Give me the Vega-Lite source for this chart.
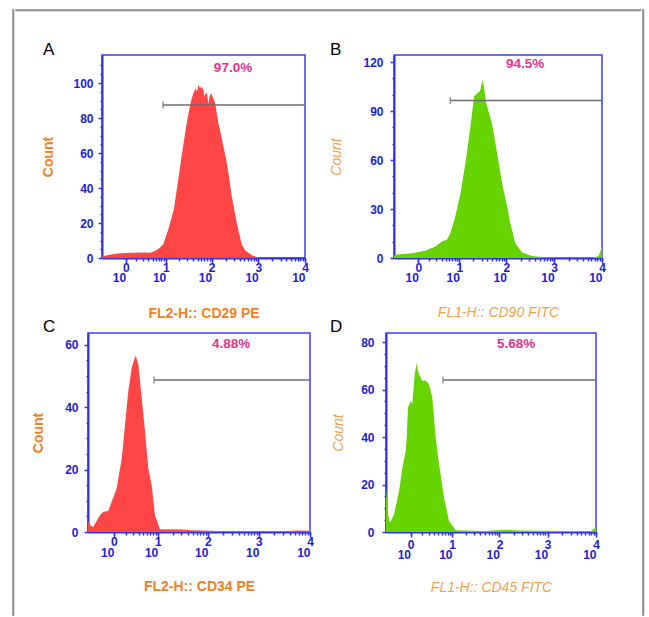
{
"$schema": "https://vega.github.io/schema/vega-lite/v6.json",
"background": "white",
"padding": {"left": 12, "top": 9, "right": 5, "bottom": 0},
"spacing": 0,
"hconcat": [
 {"width": 0.5, "height": 605, "view": {"stroke": "#8c8c8c", "strokeWidth": 1.5, "fill": null}, "data": {"values": []}, "mark": "point"},
 {"spacing": 28, "vconcat": [
  {"width": 624.5, "height": 0.5, "view": {"stroke": "#8c8c8c", "strokeWidth": 1.5, "fill": null}, "data": {"values": []}, "mark": "point"},
  {"spacing": -4, "vconcat": [
   {"spacing": 0, "hconcat": [
    {"width": 25, "height": 1, "view": {"stroke": null, "fill": null}, "data": {"values": []}, "mark": "point"},
    {"spacing": 19, "hconcat": [
     {"width": 203, "height": 203,
      "title": {"text": "A", "dx": -59, "offset": -4},
      "resolve": {"axis": {"x": "independent", "y": "independent"}},
      "layer": [
       {"data": {"values": [{"x":0,"c":0.8},{"x":0.1,"c":1.5},{"x":0.3,"c":2.2},{"x":0.64,"c":2.7},{"x":1.5,"c":3},{"x":3,"c":3.2},{"x":4.35,"c":3},{"x":5.69,"c":4},{"x":7,"c":5.5},{"x":8.8,"c":7.8},{"x":11.4,"c":16.4},{"x":15.1,"c":27.8},{"x":19.4,"c":46.9},{"x":22,"c":57},{"x":24.8,"c":65.9},{"x":28,"c":75},{"x":31.7,"c":83},{"x":36,"c":90},{"x":40.6,"c":94.5},{"x":45,"c":97},{"x":48,"c":95},{"x":52,"c":99},{"x":56,"c":97},{"x":60,"c":98},{"x":66.4,"c":96},{"x":70,"c":92},{"x":75.9,"c":95},{"x":80,"c":93},{"x":85,"c":88},{"x":90,"c":92},{"x":97,"c":94.3},{"x":105,"c":92},{"x":118,"c":88.8},{"x":139,"c":77.3},{"x":160,"c":70},{"x":178,"c":64},{"x":211,"c":54.5},{"x":240,"c":45},{"x":269,"c":35.4},{"x":345,"c":20.2},{"x":441,"c":7.8},{"x":520,"c":4.5},{"x":611,"c":3},{"x":750,"c":1.5},{"x":925,"c":0.5},{"x":1300,"c":0},{"x":10000,"c":0}]},
        "mark": {"type": "area", "color": "#ff4646", "opacity": 1},
        "encoding": {
         "x": {"field": "x", "type": "quantitative", "scale": {"type": "symlog", "constant": 0.45, "domain": [0, 10000], "nice": false},
               "axis": {"values": [1,10,100,1000,10000], "labelExpr": "'10'", "labelAlign": "right", "labelDx": -5, "tickSize": 5, "labelPadding": 9, "title": "FL2-H:: CD29 PE", "titleFontWeight": "bold", "titlePadding": 23}},
         "y": {"field": "c", "type": "quantitative", "scale": {"domain": [0, 116], "nice": false},
               "axis": {"values": [0,20,40,60,80,100], "tickSize": 4, "labelPadding": 5, "title": "Count", "titleFontWeight": "bold", "titlePadding": 17}}
        }},
       {"data": {"values": [{"x0": 8.66, "x1": 10000, "g": 87.4}]},
        "mark": {"type": "rule", "color": "#6e6e6e", "strokeWidth": 1.5},
        "encoding": {
         "x": {"field": "x0", "type": "quantitative", "scale": {"type": "symlog", "constant": 0.45, "domain": [0, 10000], "nice": false},
               "axis": {"orient": "bottom", "values": [1,10,100,1000,10000], "labelExpr": "datum.value == 1 ? '0' : datum.value == 10 ? '1' : datum.value == 100 ? '2' : datum.value == 1000 ? '3' : '4'", "tickSize": 3, "labelPadding": 1, "labelDx": 1, "labelFontSize": 12, "domain": false, "title": null}},
         "x2": {"field": "x1"},
         "y": {"field": "g", "type": "quantitative", "scale": {"domain": [0, 116], "nice": false},
               "axis": {"orient": "left", "values": [5,10,15,25,30,35,45,50,55,65,70,75,85,90,95,105,110], "labels": false, "tickSize": 2, "domain": false, "title": null}}
        }},
       {"data": {"values": [{"x0": 8.66, "g": 87.4}]},
        "mark": {"type": "tick", "orient": "vertical", "color": "#6e6e6e", "size": 7, "thickness": 1.5},
        "encoding": {
         "x": {"field": "x0", "type": "quantitative", "scale": {"type": "symlog", "constant": 0.45, "domain": [0, 10000], "nice": false},
               "axis": {"orient": "bottom", "values": [2,3,4,5,6,7,8,9,20,30,40,50,60,70,80,90,200,300,400,500,600,700,800,900,2000,3000,4000,5000,6000,7000,8000,9000], "labels": false, "tickSize": 3, "domain": false, "title": null}},
         "y": {"field": "g", "type": "quantitative", "scale": {"domain": [0, 116], "nice": false}, "axis": null}
        }},
       {"data": {"values": [{"px": 287, "py": 108.6, "t": "97.0%"}]},
        "mark": {"type": "text", "color": "#e8338c", "fontWeight": "bold", "fontSize": 13.5},
        "encoding": {
         "x": {"field": "px", "type": "quantitative", "scale": {"type": "symlog", "constant": 0.45, "domain": [0, 10000], "nice": false}, "axis": null},
         "y": {"field": "py", "type": "quantitative", "scale": {"domain": [0, 116], "nice": false}, "axis": null},
         "text": {"field": "t"}
        }}
      ]},
     {"width": 208, "height": 203,
      "title": {"text": "B", "dx": -64, "offset": -4},
      "resolve": {"axis": {"x": "independent", "y": "independent"}},
      "layer": [
       {"data": {"values": [{"x":0,"c":1.5},{"x":0.03,"c":2},{"x":0.62,"c":2.9},{"x":1.58,"c":4.4},{"x":2.83,"c":7},{"x":4.08,"c":10.1},{"x":5.32,"c":11.1},{"x":6.31,"c":15.2},{"x":8.15,"c":25.4},{"x":10.6,"c":39.7},{"x":13.9,"c":60.1},{"x":17.7,"c":82.5},{"x":20.8,"c":98.9},{"x":24.4,"c":100.9},{"x":27.3,"c":102},{"x":29,"c":104},{"x":31,"c":109},{"x":33.7,"c":105},{"x":37.6,"c":94.8},{"x":44.2,"c":87.7},{"x":50.2,"c":81.6},{"x":58.9,"c":70.3},{"x":69.3,"c":58},{"x":81.3,"c":45.8},{"x":104,"c":31.5},{"x":121,"c":21.3},{"x":154,"c":9.1},{"x":213,"c":3.4},{"x":344,"c":1.3},{"x":769,"c":0.3},{"x":6180,"c":0.3},{"x":8500,"c":1},{"x":9210,"c":4},{"x":10000,"c":8}]},
        "mark": {"type": "area", "color": "#66d400", "opacity": 1},
        "encoding": {
         "x": {"field": "x", "type": "quantitative", "scale": {"type": "symlog", "constant": 0.45, "domain": [0, 10000], "nice": false},
               "axis": {"values": [1,10,100,1000,10000], "labelExpr": "'10'", "labelAlign": "right", "labelDx": -5, "tickSize": 5, "labelPadding": 9, "title": "FL1-H:: CD90 FITC", "titleFontStyle": "italic", "titleFontWeight": "normal", "titleColor": "#f2a24e", "titlePadding": 22}},
         "y": {"field": "c", "type": "quantitative", "scale": {"domain": [0, 124.3], "nice": false},
               "axis": {"values": [0,30,60,90,120], "tickSize": 4, "labelPadding": 7, "title": "Count", "titleFontStyle": "italic", "titleFontWeight": "normal", "titleColor": "#f2a24e", "titlePadding": 19}}
        }},
       {"data": {"values": [{"x0": 6.3, "x1": 10000, "g": 96.4}]},
        "mark": {"type": "rule", "color": "#6e6e6e", "strokeWidth": 1.5},
        "encoding": {
         "x": {"field": "x0", "type": "quantitative", "scale": {"type": "symlog", "constant": 0.45, "domain": [0, 10000], "nice": false},
               "axis": {"orient": "bottom", "values": [1,10,100,1000,10000], "labelExpr": "datum.value == 1 ? '0' : datum.value == 10 ? '1' : datum.value == 100 ? '2' : datum.value == 1000 ? '3' : '4'", "tickSize": 3, "labelPadding": 1, "labelDx": 1, "labelFontSize": 12, "domain": false, "title": null}},
         "x2": {"field": "x1"},
         "y": {"field": "g", "type": "quantitative", "scale": {"domain": [0, 124.3], "nice": false},
               "axis": {"orient": "left", "values": [10,20,40,50,70,80,100,110], "labels": false, "tickSize": 2, "domain": false, "title": null}}
        }},
       {"data": {"values": [{"x0": 6.3, "g": 96.4}]},
        "mark": {"type": "tick", "orient": "vertical", "color": "#6e6e6e", "size": 7, "thickness": 1.5},
        "encoding": {
         "x": {"field": "x0", "type": "quantitative", "scale": {"type": "symlog", "constant": 0.45, "domain": [0, 10000], "nice": false},
               "axis": {"orient": "bottom", "values": [2,3,4,5,6,7,8,9,20,30,40,50,60,70,80,90,200,300,400,500,600,700,800,900,2000,3000,4000,5000,6000,7000,8000,9000], "labels": false, "tickSize": 3, "domain": false, "title": null}},
         "y": {"field": "g", "type": "quantitative", "scale": {"domain": [0, 124.3], "nice": false}, "axis": null}
        }},
       {"data": {"values": [{"px": 246, "py": 118.5, "t": "94.5%"}]},
        "mark": {"type": "text", "color": "#e8338c", "fontWeight": "bold", "fontSize": 13.5},
        "encoding": {
         "x": {"field": "px", "type": "quantitative", "scale": {"type": "symlog", "constant": 0.45, "domain": [0, 10000], "nice": false}, "axis": null},
         "y": {"field": "py", "type": "quantitative", "scale": {"domain": [0, 124.3], "nice": false}, "axis": null},
         "text": {"field": "t"}
        }}
      ]}
    ]}
   ]},
   {"spacing": 0, "hconcat": [
    {"width": 14, "height": 1, "view": {"stroke": null, "fill": null}, "data": {"values": []}, "mark": "point"},
    {"spacing": 14, "hconcat": [
     {"width": 222, "height": 199,
      "title": {"text": "C", "dx": -45, "offset": -3},
      "resolve": {"axis": {"x": "independent", "y": "independent"}},
      "layer": [
       {"data": {"values": [{"x":0,"c":3.5},{"x":0.06,"c":2},{"x":0.12,"c":1.6},{"x":0.32,"c":5.4},{"x":0.45,"c":6.5},{"x":0.67,"c":6.7},{"x":0.86,"c":9.7},{"x":1.19,"c":14},{"x":1.61,"c":23.6},{"x":1.94,"c":34.4},{"x":2.32,"c":45.2},{"x":2.78,"c":52.7},{"x":3.2,"c":55.5},{"x":3.42,"c":56.5},{"x":3.9,"c":53.8},{"x":4.62,"c":43},{"x":5.43,"c":32.3},{"x":6.37,"c":20.4},{"x":7.5,"c":15},{"x":8.78,"c":5.4},{"x":11.1,"c":0.9},{"x":30.8,"c":0.8},{"x":48,"c":0.6},{"x":160,"c":0.3},{"x":3240,"c":0.3},{"x":5900,"c":0.5},{"x":10000,"c":0.4}]},
        "mark": {"type": "area", "color": "#ff4646", "opacity": 1},
        "encoding": {
         "x": {"field": "x", "type": "quantitative", "scale": {"type": "symlog", "constant": 0.45, "domain": [0, 10000], "nice": false},
               "axis": {"values": [1,10,100,1000,10000], "labelExpr": "'10'", "labelAlign": "right", "labelDx": -5, "tickSize": 5, "labelPadding": 10, "title": "FL2-H:: CD34 PE", "titleFontWeight": "bold", "titlePadding": 21}},
         "y": {"field": "c", "type": "quantitative", "scale": {"domain": [0, 63.8], "nice": false},
               "axis": {"values": [0,20,40,60], "tickSize": 4, "labelPadding": 6, "title": "Count", "titleFontWeight": "bold", "titlePadding": 19}}
        }},
       {"data": {"values": [{"x0": 8.4, "x1": 10000, "g": 48.7}]},
        "mark": {"type": "rule", "color": "#6e6e6e", "strokeWidth": 1.5},
        "encoding": {
         "x": {"field": "x0", "type": "quantitative", "scale": {"type": "symlog", "constant": 0.45, "domain": [0, 10000], "nice": false},
               "axis": {"orient": "bottom", "values": [1,10,100,1000,10000], "labelExpr": "datum.value == 1 ? '0' : datum.value == 10 ? '1' : datum.value == 100 ? '2' : datum.value == 1000 ? '3' : '4'", "tickSize": 3, "labelPadding": 1, "labelDx": 1, "labelFontSize": 12, "domain": false, "title": null}},
         "x2": {"field": "x1"},
         "y": {"field": "g", "type": "quantitative", "scale": {"domain": [0, 63.8], "nice": false},
               "axis": {"orient": "left", "values": [5,10,15,25,30,35,45,50,55], "labels": false, "tickSize": 2, "domain": false, "title": null}}
        }},
       {"data": {"values": [{"x0": 8.4, "g": 48.7}]},
        "mark": {"type": "tick", "orient": "vertical", "color": "#6e6e6e", "size": 7, "thickness": 1.5},
        "encoding": {
         "x": {"field": "x0", "type": "quantitative", "scale": {"type": "symlog", "constant": 0.45, "domain": [0, 10000], "nice": false},
               "axis": {"orient": "bottom", "values": [2,3,4,5,6,7,8,9,20,30,40,50,60,70,80,90,200,300,400,500,600,700,800,900,2000,3000,4000,5000,6000,7000,8000,9000], "labels": false, "tickSize": 3, "domain": false, "title": null}},
         "y": {"field": "g", "type": "quantitative", "scale": {"domain": [0, 63.8], "nice": false}, "axis": null}
        }},
       {"data": {"values": [{"px": 284, "py": 60.3, "t": "4.88%"}]},
        "mark": {"type": "text", "color": "#e8338c", "fontWeight": "bold", "fontSize": 13.5},
        "encoding": {
         "x": {"field": "px", "type": "quantitative", "scale": {"type": "symlog", "constant": 0.45, "domain": [0, 10000], "nice": false}, "axis": null},
         "y": {"field": "py", "type": "quantitative", "scale": {"domain": [0, 63.8], "nice": false}, "axis": null},
         "text": {"field": "t"}
        }}
      ]},
     {"width": 210, "height": 199,
      "title": {"text": "D", "dx": -56, "offset": -3},
      "resolve": {"axis": {"x": "independent", "y": "independent"}},
      "layer": [
       {"data": {"values": [{"x":0,"c":18.7},{"x":0.045,"c":7.4},{"x":0.095,"c":3.9},{"x":0.21,"c":7.4},{"x":0.39,"c":17.3},{"x":0.53,"c":27},{"x":0.7,"c":34},{"x":0.76,"c":40},{"x":0.83,"c":52.3},{"x":1.01,"c":55.2},{"x":1.13,"c":54},{"x":1.32,"c":66.4},{"x":1.49,"c":71.3},{"x":1.6,"c":68},{"x":1.72,"c":66.4},{"x":2.09,"c":63.6},{"x":2.53,"c":63.9},{"x":3.04,"c":62.2},{"x":3.64,"c":56.5},{"x":4.36,"c":39.7},{"x":5.18,"c":28.5},{"x":6.69,"c":14.4},{"x":8.61,"c":4.6},{"x":12,"c":0.7},{"x":48,"c":0.4},{"x":135,"c":1},{"x":232,"c":0.6},{"x":7770,"c":0.3},{"x":10000,"c":2}]},
        "mark": {"type": "area", "color": "#66d400", "opacity": 1},
        "encoding": {
         "x": {"field": "x", "type": "quantitative", "scale": {"type": "symlog", "constant": 0.45, "domain": [0, 10000], "nice": false},
               "axis": {"values": [1,10,100,1000,10000], "labelExpr": "'10'", "labelAlign": "right", "labelDx": -5, "tickSize": 5, "labelPadding": 12, "title": "FL1-H:: CD45 FITC", "titleFontStyle": "italic", "titleFontWeight": "normal", "titleColor": "#f2a24e", "titlePadding": 20}},
         "y": {"field": "c", "type": "quantitative", "scale": {"domain": [0, 83.8], "nice": false},
               "axis": {"values": [0,20,40,60,80], "tickSize": 4, "labelPadding": 8, "title": "Count", "titleFontStyle": "italic", "titleFontWeight": "normal", "titleColor": "#f2a24e", "titlePadding": 15}}
        }},
       {"data": {"values": [{"x0": 6.36, "x1": 10000, "g": 64}]},
        "mark": {"type": "rule", "color": "#6e6e6e", "strokeWidth": 1.5},
        "encoding": {
         "x": {"field": "x0", "type": "quantitative", "scale": {"type": "symlog", "constant": 0.45, "domain": [0, 10000], "nice": false},
               "axis": {"orient": "bottom", "values": [1,10,100,1000,10000], "labelExpr": "datum.value == 1 ? '0' : datum.value == 10 ? '1' : datum.value == 100 ? '2' : datum.value == 1000 ? '3' : '4'", "tickSize": 3, "labelPadding": 4, "labelDx": 1, "labelFontSize": 12, "domain": false, "title": null}},
         "x2": {"field": "x1"},
         "y": {"field": "g", "type": "quantitative", "scale": {"domain": [0, 83.8], "nice": false},
               "axis": {"orient": "left", "values": [5,10,15,25,30,35,45,50,55,65,70,75], "labels": false, "tickSize": 2, "domain": false, "title": null}}
        }},
       {"data": {"values": [{"x0": 6.36, "g": 64}]},
        "mark": {"type": "tick", "orient": "vertical", "color": "#6e6e6e", "size": 7, "thickness": 1.5},
        "encoding": {
         "x": {"field": "x0", "type": "quantitative", "scale": {"type": "symlog", "constant": 0.45, "domain": [0, 10000], "nice": false},
               "axis": {"orient": "bottom", "values": [2,3,4,5,6,7,8,9,20,30,40,50,60,70,80,90,200,300,400,500,600,700,800,900,2000,3000,4000,5000,6000,7000,8000,9000], "labels": false, "tickSize": 3, "domain": false, "title": null}},
         "y": {"field": "g", "type": "quantitative", "scale": {"domain": [0, 83.8], "nice": false}, "axis": null}
        }},
       {"data": {"values": [{"px": 221, "py": 79.2, "t": "5.68%"}]},
        "mark": {"type": "text", "color": "#e8338c", "fontWeight": "bold", "fontSize": 13.5},
        "encoding": {
         "x": {"field": "px", "type": "quantitative", "scale": {"type": "symlog", "constant": 0.45, "domain": [0, 10000], "nice": false}, "axis": null},
         "y": {"field": "py", "type": "quantitative", "scale": {"domain": [0, 83.8], "nice": false}, "axis": null},
         "text": {"field": "t"}
        }}
      ]}
    ]}
   ]}
  ]}
 ]},
 {"width": 0.5, "height": 605, "view": {"stroke": "#8c8c8c", "strokeWidth": 1.5, "fill": null}, "data": {"values": []}, "mark": "point"}
],
"config": {
 "view": {"stroke": "#3c3cf5", "strokeWidth": 1.5},
 "axis": {"grid": false, "labelFont": "Liberation Sans", "labelFontWeight": "bold", "labelFontSize": 12, "labelColor": "#1e1ed2", "tickColor": "#3232e6", "domainColor": "#3232e6", "domainWidth": 2, "tickWidth": 1.5, "titleFont": "Liberation Sans", "titleFontSize": 14, "titleColor": "#f08322", "labelFlush": false, "labelOverlap": false},
 "title": {"font": "Liberation Sans", "fontSize": 17, "fontWeight": "normal", "color": "#000000", "anchor": "start", "frame": "group"},
 "text": {"font": "Liberation Sans"}
}
}
